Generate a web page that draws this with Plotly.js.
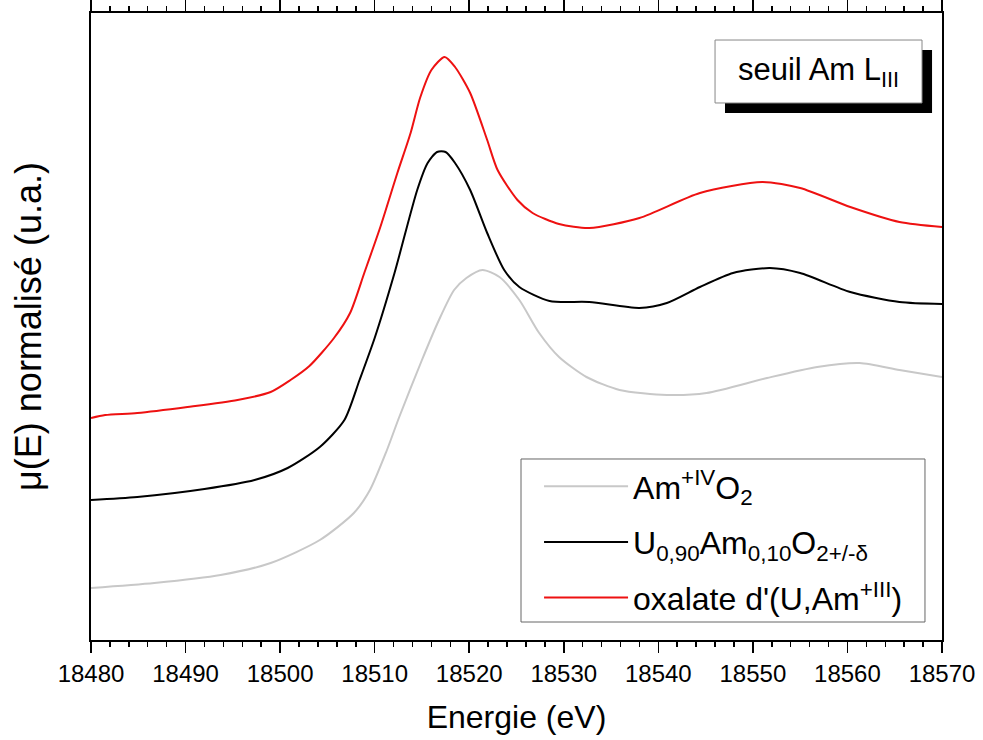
<!DOCTYPE html>
<html>
<head>
<meta charset="utf-8">
<script src="https://cdn.plot.ly/plotly-3.0.1.min.js"></script>
<style>html,body{margin:0;padding:0;background:#fff;}#chart{width:983px;height:740px;}</style>
</head>
<body>
<div id="chart"></div>
<script>
// Energies (eV) and normalised, vertically offset absorption (arbitrary units)
const energyAmO2 = [18480.0,18486.7,18493.7,18499.0,18504.2,18507.8,18509.5,18511.3,18512.6,18515.0,18516.8,18518.4,18519.7,18521.4,18523.2,18525.3,18527.4,18529.5,18532.4,18535.9,18540.9,18545.1,18551.5,18556.8,18561.3,18565.5,18570.0];
const muAmO2     = [0.245,0.270,0.310,0.370,0.485,0.620,0.735,0.935,1.100,1.385,1.585,1.735,1.795,1.835,1.800,1.685,1.520,1.400,1.300,1.235,1.210,1.220,1.295,1.350,1.370,1.335,1.300];

const energyUAm = [18480.0,18484.9,18492.0,18497.3,18500.8,18504.2,18506.8,18508.4,18510.0,18512.1,18514.5,18515.6,18516.6,18517.5,18518.5,18520.1,18521.9,18523.7,18525.3,18528.5,18532.7,18538.0,18540.9,18544.4,18547.9,18551.8,18555.0,18560.3,18565.5,18570.0];
const muUAm     = [0.685,0.700,0.740,0.785,0.845,0.950,1.085,1.285,1.495,1.820,2.235,2.370,2.425,2.425,2.370,2.235,2.020,1.835,1.750,1.680,1.675,1.645,1.670,1.750,1.820,1.845,1.820,1.725,1.675,1.665];

const energyOxal = [18480.0,18481.5,18484.9,18490.2,18495.5,18499.0,18501.1,18503.1,18505.7,18507.4,18508.9,18510.6,18512.4,18513.8,18514.8,18516.0,18517.4,18518.5,18520.1,18521.9,18523.0,18525.1,18526.7,18529.5,18532.7,18538.0,18544.4,18551.0,18555.0,18560.3,18565.5,18570.0];
const muOxal     = [1.095,1.110,1.120,1.150,1.185,1.225,1.285,1.355,1.495,1.620,1.820,2.050,2.320,2.520,2.695,2.835,2.900,2.850,2.720,2.485,2.335,2.185,2.120,2.065,2.045,2.095,2.220,2.275,2.245,2.150,2.075,2.050];

const seriesNames = [
  "Am<sup>+IV</sup>O<sub>2</sub>",
  "U<sub>0,90</sub>Am<sub>0,10</sub>O<sub>2+/-δ</sub>",
  "oxalate d'(U,Am<sup>+III</sup>)"
];
const xRange = [18480, 18570];

const FONT = "Arial, 'Liberation Sans', sans-serif";

const traces = [
  {x: energyAmO2, y: muAmO2, name: seriesNames[0], legendgroup: 'a', mode: 'lines', line: {color: '#c8c8c8', width: 2, shape: 'spline', smoothing: 0.7}},
  {x: energyUAm, y: muUAm, name: seriesNames[1], legendgroup: 'b', mode: 'lines', line: {color: '#000000', width: 2, shape: 'spline', smoothing: 0.7}},
  {x: energyOxal, y: muOxal, name: seriesNames[2], legendgroup: 'c', mode: 'lines', line: {color: '#ee1111', width: 2, shape: 'spline', smoothing: 0.7}}
];

const layout = {
  width: 983, height: 740,
  margin: {l: 91, r: 41, t: 13, b: 100},
  paper_bgcolor: '#fff', plot_bgcolor: '#fff',
  font: {family: FONT, color: '#000'},
  showlegend: true,
  legend: {
    x: 0.5265, y: 0.2887, xanchor: 'left', yanchor: 'top',
    bgcolor: 'rgba(0,0,0,0)', borderwidth: 0,
    font: {family: FONT, size: 32, color: '#000'},
    itemwidth: 84, tracegroupgap: 11, traceorder: 'grouped'
  },
  xaxis: {
    range: xRange, tick0: 18480, dtick: 10,
    ticks: 'outside', ticklen: 11, tickwidth: 1.5, tickcolor: '#000',
    minor: {dtick: 2, ticks: 'outside', ticklen: 5, tickwidth: 1.5, tickcolor: '#000'},
    showline: true, linecolor: '#000', linewidth: 2, mirror: 'allticks',
    showgrid: false, zeroline: false, tickformat: 'd',
    tickfont: {family: FONT, size: 24, color: '#000'},
    title: {text: 'Energie (eV)', font: {family: FONT, size: 32, color: '#000'}, standoff: 20}
  },
  yaxis: {
    range: [-0.015, 3.12], showticklabels: false, ticks: '',
    showline: true, linecolor: '#000', linewidth: 2, mirror: true,
    showgrid: false, zeroline: false,
    title: {text: 'μ(E) normalisé (u.a.)', font: {family: FONT, size: 36, color: '#000'}, standoff: 36}
  },
  shapes: [
    // label box with drop shadow
    {type: 'rect', xref: 'paper', yref: 'paper', x0: 0.745, x1: 0.9883, y0: 0.8405, y1: 0.941, fillcolor: '#000', line: {width: 0}},
    {type: 'rect', xref: 'paper', yref: 'paper', x0: 0.7333, x1: 0.9765, y0: 0.8565, y1: 0.9569, fillcolor: '#fff', line: {color: '#888', width: 1}},
    // legend frame
    {type: 'rect', xref: 'paper', yref: 'paper', x0: 0.5053, x1: 0.9800, y0: 0.0287, y1: 0.2887, fillcolor: '#fff', line: {color: '#666', width: 1}}
  ],
  annotations: [
    {xref: 'paper', yref: 'paper', x: 0.855, y: 0.906, xanchor: 'center', yanchor: 'middle', showarrow: false,
     text: 'seuil Am L<sub>III</sub>', font: {family: FONT, size: 31, color: '#000'}}
  ]
};

Plotly.newPlot('chart', traces, layout, {staticPlot: true, displayModeBar: false});
</script>
</body>
</html>
